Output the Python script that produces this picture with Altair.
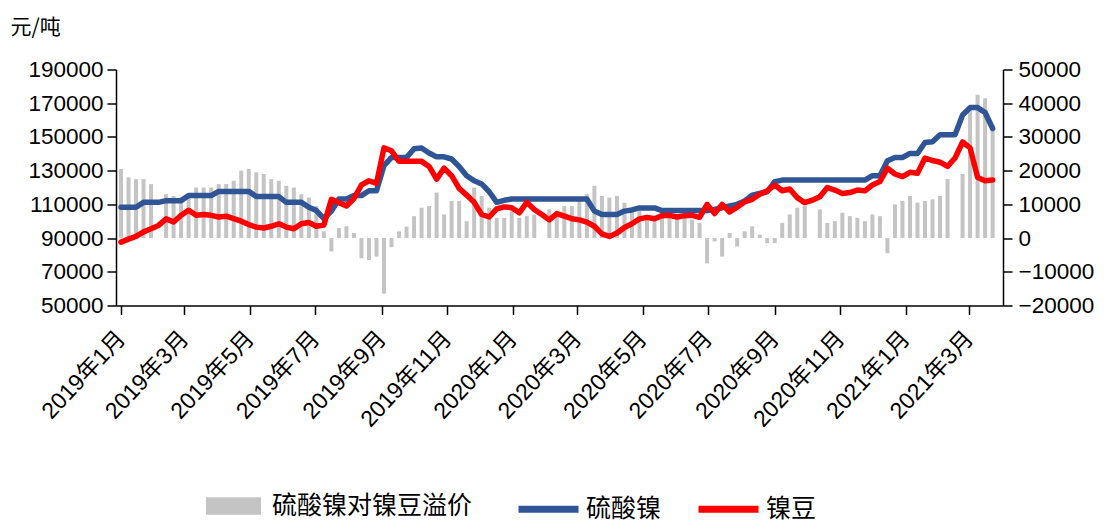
import altair as alt
import pandas as pd

# weekly sampling grid (2019-01-01 onwards)
start = pd.Timestamp("2019-01-01")
dates = [(start + pd.Timedelta(days=7 * k)).strftime("%Y/%m/%d") for k in range(117)]

# 硫酸镍 (元/吨)
sulfate = [
    108300, 108300, 108300, 111200, 111200, 111200, 112200, 112200, 112200, 115200,
    115200, 115200, 115200, 117700, 117700, 117700, 117700, 117700, 114600, 114600,
    114600, 114600, 111200, 111200, 111200, 108300, 106300, 101500, 106000, 113200,
    113200, 115200, 115200, 118100, 118100, 133000, 137800, 137800, 137800, 143000,
    143400, 140500, 138200, 138200, 136900, 132500, 127000, 124000, 122100, 117500,
    111200, 112400, 113200, 113200, 113200, 113200, 113200, 113200, 113200, 113200,
    113200, 113200, 113200, 106000, 104000, 104000, 104000, 106000, 106700, 107900,
    107900, 107900, 106300, 106300, 106300, 106300, 106300, 106300, 106300, 107000,
    108000, 109000, 110000, 112000, 115500, 116500, 117500, 123500, 124400, 124400,
    124400, 124400, 124400, 124400, 124400, 124400, 124400, 124400, 124400, 124400,
    127000, 127000, 135900, 137800, 137800, 140200, 140200, 146700, 147100, 151300,
    151300, 151300, 163000, 167400, 167400, 164500, 155000,
]

# 镍豆 (元/吨)
bean = [
    87600, 89400, 91000, 93700, 95500, 97500, 101400, 99500, 103500, 106500,
    103500, 104000, 103500, 102500, 103000, 101500, 100000, 98000, 96500, 96000,
    97000, 98500, 96500, 95500, 98500, 99200, 97000, 97800, 113000, 111000,
    109000, 113500, 121500, 124000, 122500, 143500, 141800, 135500, 135500, 135500,
    135500, 132500, 125000, 131500, 127000, 119500, 115500, 111200, 104000, 102500,
    107300, 108500, 108000, 105000, 111200, 107000, 104000, 100800, 104500, 103000,
    101500, 100800, 99500, 97000, 92500, 91000, 93000, 96300, 98500, 101400,
    102300, 101500, 103300, 103500, 102500, 103300, 103500, 102300, 110000, 104500,
    110000, 105500, 108300, 111500, 113000, 116000, 118000, 121500, 118100, 119100,
    114000, 111000, 112500, 114500, 120000, 118500, 116500, 117000, 118500, 118000,
    121500, 123500, 131500, 128000, 126500, 129000, 128500, 137500, 136000, 135000,
    132500, 137500, 147000, 143500, 126000, 124000, 124500,
]

# 硫酸镍对镍豆溢价 (元/吨, right axis); None = no bar
premium = [
    20500, 18000, 17500, 17500, 16000, None, 13000, 12500, 12000, 12500,
    15000, 15000, 15000, 16000, 16000, 17000, 20000, 20500, 19500, 19000,
    17500, 17000, 15500, 15000, 13000, 12000, 9500, 2000, -4000, 3000,
    3500, 1500, -6000, -6500, -5500, -16500, -2700, 2000, 3400, 6500,
    9000, 9500, 13500, 7000, 11000, 11000, 5000, 15000, 12500, 9000,
    6000, 6000, 8000, 6000, 6500, 7000, None, 8500, 7000, 9500,
    9500, 11000, 13000, 15500, 12500, 12000, 12500, 10500, 9000, 8000,
    6000, 6500, 6000, 6000, 6000, 6000, 5500, 4500, -7500, -1000,
    -5500, 1500, -2500, 2000, 3500, 1000, -1500, -1500, 4500, 7000,
    9000, 9500, None, 8500, 4500, 5000, 7500, 6500, 6000, 5000,
    7000, 6500, -4500, 10000, 11000, 12500, 10500, 11000, 11500, 12500,
    17500, None, 19000, 39000, 42500, 41500, 33000,
]

series_names = ["硫酸镍", "镍豆"]
series_colors = ["#2F5597", "#FF0000"]
bar_name = "硫酸镍对镍豆溢价"
bar_color = "#C4C4C4"

left_ticks = list(range(50000, 190001, 20000))
right_ticks = list(range(-20000, 50001, 10000))
month_ticks = [(2019, m) for m in (1, 3, 5, 7, 9, 11)] + \
              [(2020, m) for m in (1, 3, 5, 7, 9, 11)] + [(2021, 1), (2021, 3)]

df = pd.DataFrame({"date": dates, "硫酸镍": sulfate, "镍豆": bean, "premium": premium})

NUM_FONT = "Liberation Sans"
CJK_FONT = "Noto Sans CJK SC"

x_scale = alt.Scale(domain=[alt.DateTime(year=2019, month=1, date=1),
                            alt.DateTime(year=2021, month=3, date=28)])
x_axis = alt.Axis(
    values=[alt.DateTime(year=y, month=m, date=1) for y, m in month_ticks],
    labelExpr="year(datum.value) + '年' + (month(datum.value) + 1) + '月'",
    labelAngle=-47, labelAlign="right", labelBaseline="middle",
    labelFont=f"{NUM_FONT}, {CJK_FONT}", labelFontSize=23, labelColor="black",
    labelPadding=20, labelOverlap=False, labelFlush=False,
    tickSize=9, tickColor="black", tickWidth=1.5,
    domainColor="black", domainWidth=1.5, grid=False, title=None,
)

bars = alt.Chart(df).transform_calculate(
    legend_bar=f"'{bar_name}'"
).mark_bar(size=4).encode(
    x=alt.X("date:T", scale=x_scale, axis=x_axis),
    y=alt.Y("premium:Q",
            scale=alt.Scale(domain=[-20000, 50000], nice=False, zero=False),
            axis=alt.Axis(orient="right", values=right_ticks, format="d",
                          labelFont=NUM_FONT, labelFontSize=22.5, labelColor="black",
                          labelPadding=6, tickSize=9, tickColor="black", tickWidth=1.5,
                          domainColor="black", domainWidth=1.5, grid=False, title=None)),
    color=alt.Color("legend_bar:N",
                    scale=alt.Scale(domain=[bar_name], range=[bar_color]),
                    legend=alt.Legend(orient="none", legendX=90, legendY=409,
                                      title=None, direction="horizontal",
                                      symbolType="M-1,-0.32H1V0.32H-1Z",
                                      symbolSize=55 * 55, symbolStrokeWidth=0,
                                      symbolOpacity=1, labelLimit=0,
                                      labelFont=CJK_FONT, labelFontSize=25,
                                      labelColor="black", labelOffset=11)),
)

lines = alt.Chart(df).transform_fold(
    series_names, as_=["series", "price"]
).mark_line(strokeWidth=5.5, strokeJoin="round", strokeCap="round").encode(
    x=alt.X("date:T", scale=x_scale, axis=x_axis),
    y=alt.Y("price:Q",
            scale=alt.Scale(domain=[50000, 190000], nice=False, zero=False),
            axis=alt.Axis(orient="left", values=left_ticks, format="d",
                          labelFont=NUM_FONT, labelFontSize=22.5, labelColor="black",
                          labelPadding=4, tickSize=9, tickColor="black", tickWidth=1.5,
                          domainColor="black", domainWidth=1.5, grid=False,
                          title="元/吨", titleAngle=0, titleAlign="left",
                          titleBaseline="middle", titleX=-106, titleY=-42,
                          titleFont=CJK_FONT, titleFontSize=21,
                          titleFontWeight="normal", titleColor="black")),
    color=alt.Color("series:N",
                    scale=alt.Scale(domain=series_names, range=series_colors),
                    legend=alt.Legend(orient="none", legendX=399, legendY=406,
                                      title=None, direction="horizontal",
                                      symbolType="stroke", symbolSize=60 * 60,
                                      symbolStrokeWidth=7, columnPadding=22,
                                      labelLimit=0,
                                      labelFont=CJK_FONT, labelFontSize=25,
                                      labelColor="black", labelOffset=4)),
)

chart = alt.layer(bars, lines).resolve_scale(
    y="independent", color="independent"
).resolve_legend(color="independent").properties(
    width=887, height=236,
    padding={"left": 2, "top": 8.5, "right": 0, "bottom": 0},
    background="white",
).configure_view(stroke=None)

chart.save("out.html", embed_options={"renderer": "svg", "actions": False})
